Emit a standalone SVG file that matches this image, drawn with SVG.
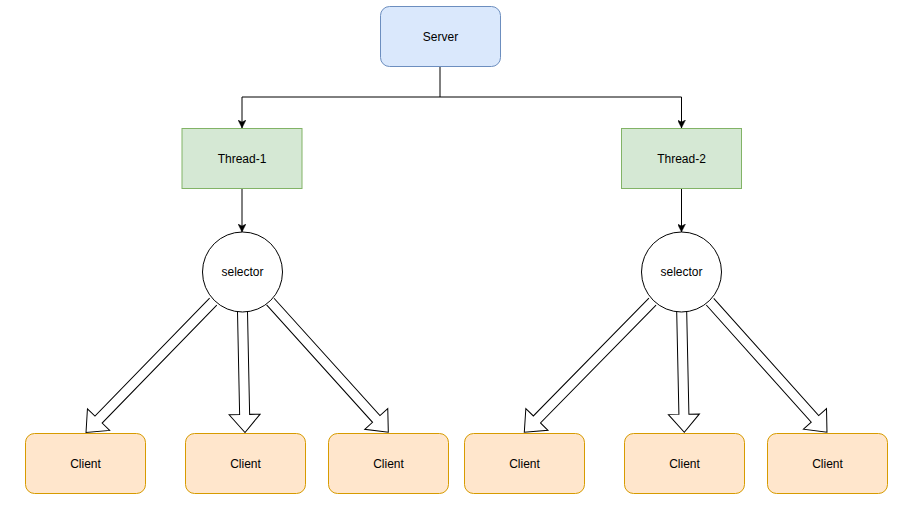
<svg xmlns="http://www.w3.org/2000/svg" width="910" height="507" viewBox="0 0 910 507">
  <style>
    .lbl { font-family: "Liberation Sans", Arial, sans-serif; font-size: 12px; fill: #000; text-anchor: middle; dominant-baseline: central; }
    .server { fill: #dae8fc; stroke: #6c8ebf; stroke-width: 1; }
    .thread { fill: #d5e8d4; stroke: #82b366; stroke-width: 1; }
    .client { fill: #ffe6cc; stroke: #d79b00; stroke-width: 1; }
    .selector { fill: #ffffff; stroke: #000; stroke-width: 1; }
    .edge { fill: none; stroke: #000; stroke-width: 1; }
    .flex { fill: #ffffff; stroke: #000; stroke-width: 1; stroke-linejoin: miter; }
  </style>
  <defs>
    <marker id="arr" viewBox="0 0 10 10" refX="10" refY="5" markerWidth="8" markerHeight="8" markerUnits="userSpaceOnUse" orient="auto">
      <path d="M0,0 L10,5 L0,10 L2.5,5 Z" fill="#000" stroke="#000" stroke-width="0.5"/>
    </marker>
  </defs>
  <rect width="910" height="507" fill="#ffffff"/>

  <g id="connectors">
    <path class="edge" d="M440,66.5 V97 H242 V128" marker-end="url(#arr)"/>
    <path class="edge" d="M440,97 H681.5 V128" marker-end="url(#arr)"/>
    <path class="edge" d="M242,188.5 V232" marker-end="url(#arr)"/>
    <path class="edge" d="M681.5,188.5 V232" marker-end="url(#arr)"/>

    <path class="flex" transform="translate(213.2,301.6) rotate(134.18)" d="M0,-5 H164.5 V-15.5 L182.5,0 L164.5,15.5 V5 H0"/>
    <path class="flex" transform="translate(242.5,312) rotate(88.81)" d="M0,-5 H102.5 V-15.5 L120.5,0 L102.5,15.5 V5 H0"/>
    <path class="flex" transform="translate(270.3,301.6) rotate(47.92)" d="M0,-5 H158.1 V-15.5 L176.1,0 L158.1,15.5 V5 H0"/>

    <path class="flex" transform="translate(652.5,301.7) rotate(134.47)" d="M0,-5 H165 V-15.5 L183,0 L165,15.5 V5 H0"/>
    <path class="flex" transform="translate(681.7,312) rotate(88.76)" d="M0,-5 H102.3 V-15.5 L120.3,0 L102.3,15.5 V5 H0"/>
    <path class="flex" transform="translate(710,301.7) rotate(48.14)" d="M0,-5 H157.3 V-15.5 L175.3,0 L157.3,15.5 V5 H0"/>
  </g>

  <g id="server">
    <rect class="server" x="380.5" y="6.5" width="120" height="60" rx="9" ry="9"/>
    <text class="lbl" x="440.5" y="36.5">Server</text>
  </g>

  <g id="thread1">
    <rect class="thread" x="182" y="128.5" width="120" height="60"/>
    <text class="lbl" x="242" y="158.5">Thread-1</text>
  </g>
  <g id="thread2">
    <rect class="thread" x="621.5" y="128.5" width="120" height="60"/>
    <text class="lbl" x="681.5" y="158.5">Thread-2</text>
  </g>

  <g id="selector1">
    <circle class="selector" cx="242.5" cy="272" r="40"/>
    <text class="lbl" x="242.5" y="272">selector</text>
  </g>
  <g id="selector2">
    <circle class="selector" cx="681.5" cy="272" r="40"/>
    <text class="lbl" x="681.5" y="272">selector</text>
  </g>

  <g id="client1">
    <rect class="client" x="25.5" y="433.5" width="120" height="60" rx="9" ry="9"/>
    <text class="lbl" x="85.5" y="463.5">Client</text>
  </g>
  <g id="client2">
    <rect class="client" x="185.5" y="433.5" width="120" height="60" rx="9" ry="9"/>
    <text class="lbl" x="245.5" y="463.5">Client</text>
  </g>
  <g id="client3">
    <rect class="client" x="328.5" y="433.5" width="120" height="60" rx="9" ry="9"/>
    <text class="lbl" x="388.5" y="463.5">Client</text>
  </g>
  <g id="client4">
    <rect class="client" x="464.5" y="433.5" width="120" height="60" rx="9" ry="9"/>
    <text class="lbl" x="524.5" y="463.5">Client</text>
  </g>
  <g id="client5">
    <rect class="client" x="624.5" y="433.5" width="120" height="60" rx="9" ry="9"/>
    <text class="lbl" x="684.5" y="463.5">Client</text>
  </g>
  <g id="client6">
    <rect class="client" x="767.5" y="433.5" width="120" height="60" rx="9" ry="9"/>
    <text class="lbl" x="827.5" y="463.5">Client</text>
  </g>
</svg>
